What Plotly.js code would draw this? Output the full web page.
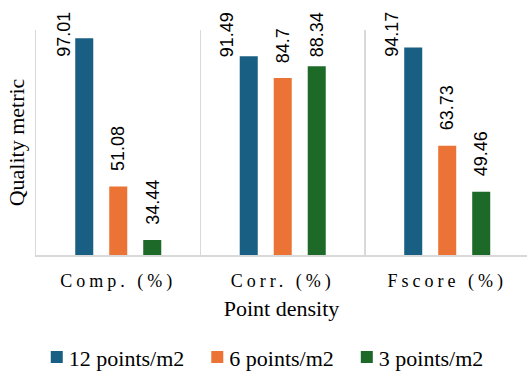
<!DOCTYPE html>
<html>
<head>
<meta charset="utf-8">
<script src="https://cdn.plot.ly/plotly-3.0.1.min.js"></script>
<style>
  html, body { margin: 0; padding: 0; background: #ffffff; }
  #chart { width: 527px; height: 372px; }
  /* spaced-out category labels */
  .xtick text { letter-spacing: 4px; }
  /* legend text sits close to its swatch */
  .legendtext { transform: translateX(-8px); }
</style>
</head>
<body>
<div id="chart"></div>
<script>
// Quality metrics per point density
const categories = ['Comp. (%)', 'Corr. (%)', 'Fscore (%)'];
const seriesNames = ['12 points/m2', '6 points/m2', '3 points/m2'];
const density12 = [97.01, 91.49, 94.17];
const density6 = [51.08, 84.7, 63.73];
const density3 = [34.44, 88.34, 49.46];
const seriesValues = [density12, density6, density3];
const seriesColors = ['#185f83', '#eb7335', '#1d6a28'];

const W = 527, H = 372;
const margin = { l: 36, r: 0, t: 30, b: 117 };
const plotH = H - margin.t - margin.b;
const yRange = [29.8, 99.6];
const bargap = 0.38;
const bargroupgap = 0.47;

const traces = seriesValues.map((vals, i) => ({
  type: 'bar',
  name: seriesNames[i],
  x: categories,
  y: vals,
  marker: { color: seriesColors[i] },
  hoverinfo: 'none'
}));

// value labels, rotated, above each bar; kept inside the figure top
const labelFont = { family: 'Liberation Sans', size: 18, color: '#000000' };
const pxPerUnit = plotH / (yRange[1] - yRange[0]);
const toPx = v => margin.t + (yRange[1] - v) * pxPerUnit;
const textLen = s => s.split('').reduce((a, ch) => a + (ch === '.' ? 0.278 : 0.556), 0) * labelFont.size;
const slot = (1 - bargap) / seriesValues.length;
const gap = 16, minTop = 11;

const annotations = [];
seriesValues.forEach((vals, si) => {
  vals.forEach((v, ci) => {
    const txt = String(v);
    const top0 = toPx(v);
    const len = textLen(txt);
    let top = top0 - gap - len;
    let xshift = 0;
    if (top < minTop) {
      top = minTop;
      if (top + len > top0 - 8) xshift = -21;
    }
    annotations.push({
      x: ci + (si - (seriesValues.length - 1) / 2) * slot,
      y: v,
      xref: 'x', yref: 'y',
      text: txt,
      textangle: -90,
      showarrow: false,
      xanchor: 'center',
      yanchor: 'top',
      yshift: top0 - top,
      xshift: xshift,
      font: labelFont,
      borderpad: 0
    });
  });
});

const serif = 'Liberation Serif';
const gridColor = '#d9d9d9';

const layout = {
  width: W,
  height: H,
  margin: margin,
  font: { family: serif, color: '#000000' },
  paper_bgcolor: '#ffffff',
  plot_bgcolor: '#ffffff',
  barmode: 'group',
  bargap: bargap,
  bargroupgap: bargroupgap,
  showlegend: true,
  legend: {
    orientation: 'h',
    x: 0.47, xanchor: 'center',
    yref: 'container', y: 0.04, yanchor: 'middle',
    font: { family: serif, size: 22, color: '#000000' },
    itemwidth: 30,
    traceorder: 'normal'
  },
  xaxis: {
    type: 'category',
    range: [-0.5, 2.485],
    tickson: 'boundaries',
    ticks: '',
    showgrid: true,
    gridcolor: gridColor,
    gridwidth: 1.5,
    showline: true,
    linecolor: gridColor,
    linewidth: 2,
    tickfont: { family: serif, size: 18, color: '#000000' },
    ticklabelstandoff: 8,
    title: { text: 'Point density', font: { family: serif, size: 22, color: '#000000' }, standoff: 10 },
    automargin: false,
    fixedrange: true
  },
  yaxis: {
    range: yRange,
    showticklabels: false,
    ticks: '',
    showgrid: false,
    zeroline: false,
    showline: true,
    linecolor: gridColor,
    linewidth: 1.5,
    title: { text: 'Quality metric', font: { family: serif, size: 22, color: '#000000' }, standoff: 4 },
    automargin: false,
    fixedrange: true
  },
  annotations: annotations
};

Plotly.newPlot('chart', traces, layout, { displayModeBar: false, staticPlot: true });
</script>
</body>
</html>
